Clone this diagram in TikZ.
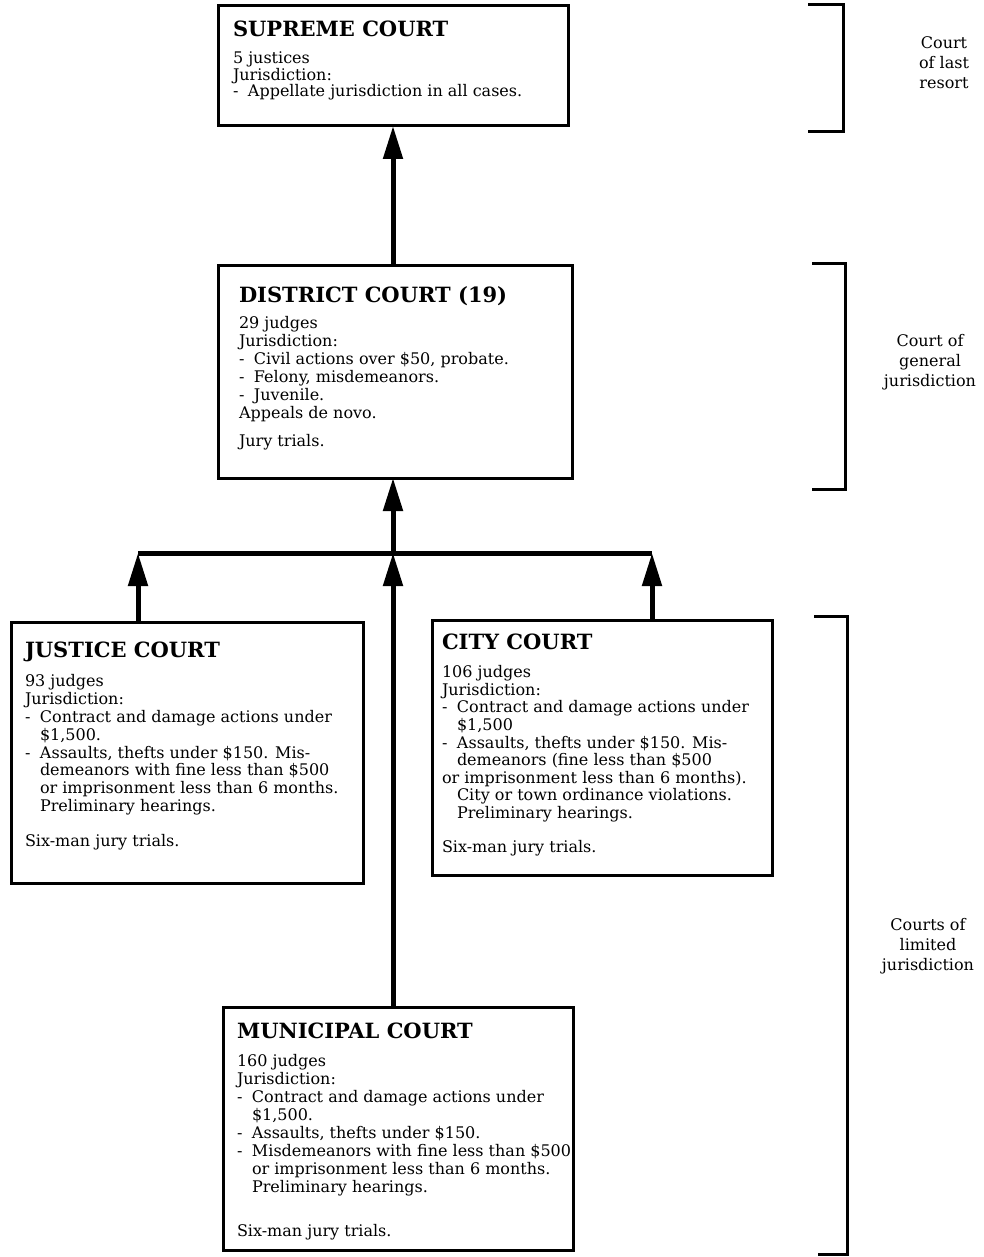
\documentclass[tikz,border=0pt]{standalone}
\usepackage{fontspec}
\setmainfont{DejaVu Serif}
\usetikzlibrary{arrows.meta}
\newcommand\titlef{\fontsize{21}{24}\selectfont\bfseries}
\newcommand\bodyf[1]{\fontsize{16}{#1}\selectfont}
\newcommand\dash{\makebox[15pt][l]{-}}
\newcommand\ind{\hspace*{15pt}}
\tikzset{
  court/.style={draw, line width=3pt, inner sep=0pt, outer sep=0pt, anchor=north west},
  up/.style={line width=5pt, -{Triangle[length=33pt,width=19pt]}},
  bar/.style={line width=5pt},
  brk/.style={line width=3pt},
  lbl/.style={align=center, font=\fontsize{16}{20}\selectfont, inner sep=0pt},
}
\begin{document}
\begin{tikzpicture}[x=1pt,y=-1pt]
\useasboundingbox (0,0) rectangle (983,1257);

\node[court] (sup) at (218,6) {\begin{minipage}[c][120pt][t]{350pt}\setlength\parindent{0pt}\setlength\leftskip{15pt}%
\rule{0pt}{31pt}{\titlef SUPREME COURT}\par\vspace{10.5pt}
\bodyf{16.5}5 justices\\
Jurisdiction:\\
\dash Appellate jurisdiction in all cases.\par
\end{minipage}};

\node[court] (dist) at (218,265) {\begin{minipage}[c][213pt][t]{354pt}\setlength\parindent{0pt}\setlength\leftskip{21pt}%
\rule{0pt}{37pt}{\titlef DISTRICT COURT (19)}\par\vspace{8pt}
\bodyf{18}29 judges\\
Jurisdiction:\\
\dash Civil actions over \$50, probate.\\
\dash Felony, misdemeanors.\\
\dash Juvenile.\\
Appeals de novo.\par\vspace{10pt}
Jury trials.\par
\end{minipage}};

\node[court] (jus) at (11,622) {\begin{minipage}[c][261pt][t]{352pt}\setlength\parindent{0pt}\setlength\leftskip{14pt}%
\rule{0pt}{35pt}{\titlef JUSTICE COURT}\par\vspace{12pt}
\bodyf{17.8}93 judges\\
Jurisdiction:\\
\dash Contract and damage actions under\\
\ind\$1,500.\\
\dash Assaults, thefts under \$150. Mis-\\
\ind demeanors with fine less than \$500\\
\ind or imprisonment less than 6 months.\\
\ind Preliminary hearings.\par\vspace{17pt}
Six-man jury trials.\par
\end{minipage}};

\node[court] (city) at (432,620) {\begin{minipage}[c][255pt][t]{340pt}\setlength\parindent{0pt}\setlength\leftskip{10pt}%
\rule{0pt}{29pt}{\titlef CITY COURT}\par\vspace{11pt}
\bodyf{17.6}106 judges\\
Jurisdiction:\\
\dash Contract and damage actions under\\
\ind\$1,500\\
\dash Assaults, thefts under \$150. Mis-\\
\ind demeanors (fine less than \$500\\
or imprisonment less than 6 months).\\
\ind City or town ordinance violations.\\
\ind Preliminary hearings.\par\vspace{16pt}
Six-man jury trials.\par
\end{minipage}};

\node[court] (mun) at (223,1007) {\begin{minipage}[c][243pt][t]{350pt}\setlength\parindent{0pt}\setlength\leftskip{14pt}%
\rule{0pt}{31pt}{\titlef MUNICIPAL COURT}\par\vspace{10pt}
\bodyf{18.1}160 judges\\
Jurisdiction:\\
\dash Contract and damage actions under\\
\ind\$1,500.\\
\dash Assaults, thefts under \$150.\\
\dash Misdemeanors with fine less than \$500\\
\ind or imprisonment less than 6 months.\\
\ind Preliminary hearings.\par\vspace{26pt}
Six-man jury trials.\par
\end{minipage}};

\coordinate (barL) at (138,553);
\coordinate (barR) at (652,553);
\coordinate (barM) at (393,553);

\draw[up] (dist.north -| sup.south) -- (sup.south);
\draw[bar] (barL) -- (barR);
\draw[up] (barM) -- (dist.south -| barM);
\draw[up] (jus.north -| barL) -- (barL);
\draw[up] (city.north -| barR) -- (barR);
\draw[up] (mun.north -| barM) -- (barM);

\draw[brk] (808,5) -- (843,5) -- (843,132) -- (808,132);
\draw[brk] (812,263) -- (845,263) -- (845,489) -- (812,489);
\draw[brk] (814,616) -- (847,616) -- (847,1254) -- (818,1254);

\node[lbl] (l1) at (944,63) {Court\\of last\\resort};
\node[lbl] (l2) at (930,362) {Court of\\general\\jurisdiction};
\node[lbl] (l3) at (928,946) {Courts of\\limited\\jurisdiction};
\end{tikzpicture}
\end{document}
